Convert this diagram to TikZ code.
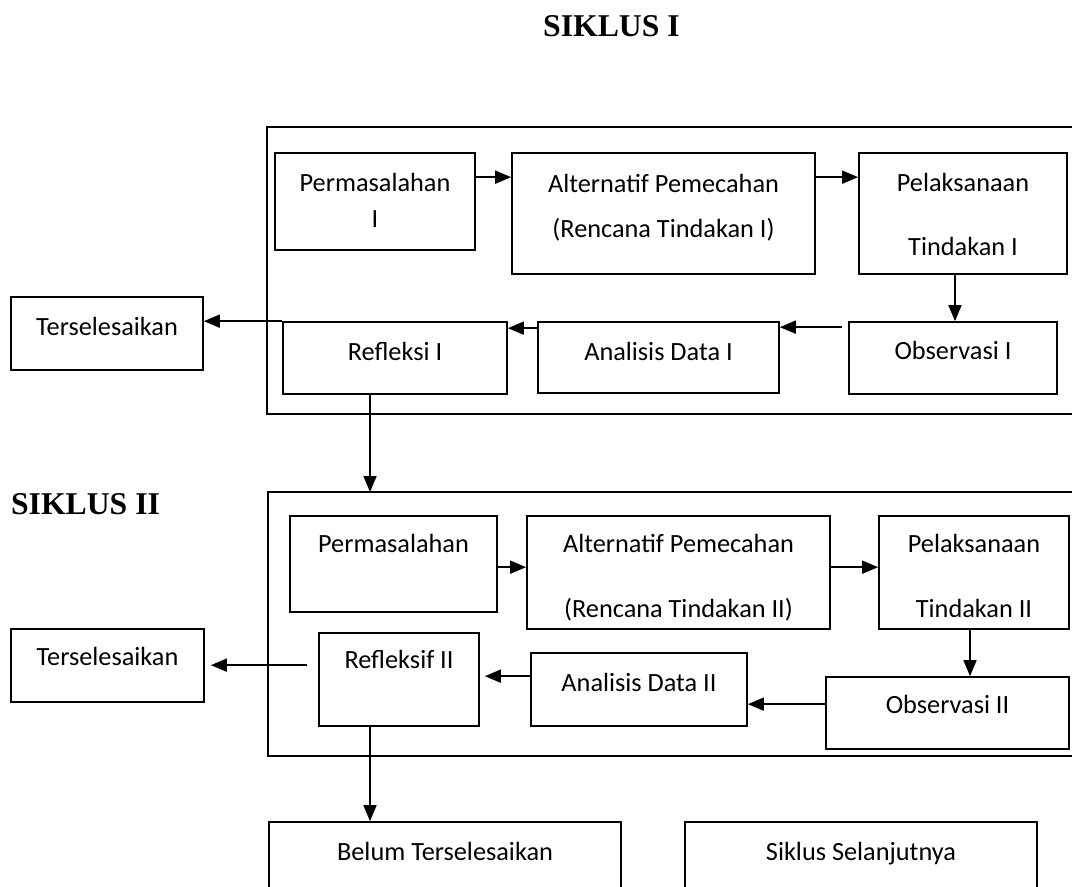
\documentclass[tikz,border=0pt]{standalone}
\usepackage{fontspec}
\setmainfont{Carlito}
\newfontfamily\titlefont{Liberation Serif}
\usetikzlibrary{arrows.meta,calc}
\begin{document}
\begin{tikzpicture}[x=1pt,y=-1pt,
  box/.style={draw,line width=1.7pt,rectangle,inner sep=0pt},
  txt/.style={anchor=base,inner sep=0pt,font=\fontsize{26.3}{32}\selectfont},
  ttl/.style={anchor=base,inner sep=0pt,font=\titlefont\bfseries\fontsize{31.7}{36}\selectfont},
  arr/.style={line width=1.7pt,-{Triangle[length=16pt,width=13pt]}},
  frame/.style={line width=1.7pt}]
\clip (0,0) rectangle (1072,887);
\fill[white] (0,0) rectangle (1072,887);
% titles
\node[ttl] (title1) at (611.5,36) {SIKLUS I};
\node[ttl] (title2) at (85.5,514) {SIKLUS II};
% frames
\coordinate (f1a) at (1072,127); \coordinate (f1b) at (267,127);
\coordinate (f1c) at (267,414); \coordinate (f1d) at (1072,414);
\draw[frame] (f1a) -- (f1b) -- (f1c) -- (f1d);
\coordinate (f2a) at (1072,492); \coordinate (f2nw) at (268,492);
\coordinate (f2c) at (268,756); \coordinate (f2d) at (1072,756);
\draw[frame] (f2a) -- (f2nw) -- (f2c) -- (f2d);
% cycle I boxes
\node[box,minimum width=200,minimum height=97] (perm1) at (375,201.5) {};
\node[box,minimum width=303,minimum height=121] (alt1) at (663.5,213.5) {};
\node[box,minimum width=208,minimum height=121] (pel1) at (963,213.5) {};
\node[box,minimum width=208,minimum height=72] (obs1) at (953,358) {};
\node[box,minimum width=241,minimum height=71] (ana1) at (658.5,357.5) {};
\node[box,minimum width=224,minimum height=72] (ref1) at (395,358) {};
\node[box,minimum width=192,minimum height=73] (ters1) at (107,333.5) {};
% cycle I texts
\node[txt] (perm1a) at (375,191) {Permasalahan};
\node[txt] (perm1b) at (375,227) {I};
\node[txt] (alt1a) at (663.5,192) {Alternatif Pemecahan};
\node[txt] (alt1b) at (663.5,237) {(Rencana Tindakan I)};
\node[txt] (pel1a) at (963,191) {Pelaksanaan};
\node[txt] (pel1b) at (963,255) {Tindakan I};
\node[txt] (obs1a) at (953,359) {Observasi I};
\node[txt] (ana1a) at (658.5,360) {Analisis Data I};
\node[txt] (ref1a) at (395,360) {Refleksi I};
\node[txt] (ters1a) at (107,335) {Terselesaikan};
% cycle II boxes
\node[box,minimum width=207,minimum height=96] (perm2) at (393.5,564) {};
\node[box,minimum width=303,minimum height=113] (alt2) at (678.5,572.5) {};
\node[box,minimum width=190,minimum height=113] (pel2) at (974,572.5) {};
\node[box,minimum width=243,minimum height=72] (obs2) at (947.5,713) {};
\node[box,minimum width=216,minimum height=73] (ana2) at (639,689.5) {};
\node[box,minimum width=160,minimum height=93] (ref2) at (399,679.5) {};
\node[box,minimum width=193,minimum height=73] (ters2) at (107.5,665.5) {};
\node[box,minimum width=352,minimum height=130] (belum) at (445,887) {};
\node[box,minimum width=352,minimum height=130] (siklus) at (861,887) {};
% cycle II texts
\node[txt] (perm2a) at (393.5,552) {Permasalahan};
\node[txt] (alt2a) at (678.5,552) {Alternatif Pemecahan};
\node[txt] (alt2b) at (678.5,617) {(Rencana Tindakan II)};
\node[txt] (pel2a) at (974,552) {Pelaksanaan};
\node[txt] (pel2b) at (974,617) {Tindakan II};
\node[txt] (obs2a) at (947.5,713) {Observasi II};
\node[txt] (ana2a) at (639,691) {Analisis Data II};
\node[txt] (ref2a) at (399,668) {Refleksif II};
\node[txt] (ters2a) at (107.5,665) {Terselesaikan};
\node[txt] (belum1) at (445,860) {Belum Terselesaikan};
\node[txt] (siklus1) at (861,860) {Siklus Selanjutnya};
% cycle I connectors
\draw[arr] ([yshift=-25pt]perm1.north east) -- ([yshift=-25pt]alt1.north west);
\draw[arr] ([yshift=-25pt]alt1.north east) -- ([yshift=-25pt]pel1.north west);
\draw[arr] ([xshift=-8pt]pel1.south) -- ([xshift=-8pt]pel1.south |- obs1.north);
\coordinate (o1) at ($(obs1.north west)+(-6,6)$);
\draw[arr] (o1) -- (ana1.east |- o1);
\coordinate (a1) at ($(ana1.north west)+(0,7)$);
\draw[arr] (a1) -- (ref1.east |- a1);
\draw[arr] (ref1.north west) -- (ters1.east |- ref1.north west);
\draw[arr] ([xshift=-25pt]ref1.south) -- ([xshift=-25pt]ref1.south |- f2nw);
% cycle II connectors
\draw[arr] ([yshift=-52pt]perm2.north east) -- ([yshift=-52pt]alt2.north west);
\draw[arr] ([yshift=-52pt]alt2.north east) -- ([yshift=-52pt]pel2.north west);
\draw[arr] ([xshift=-4pt]pel2.south) -- ([xshift=-4pt]pel2.south |- obs2.north);
\coordinate (o2) at ($(obs2.north west)+(0,28)$);
\draw[arr] (o2) -- (ana2.east |- o2);
\coordinate (a2) at ($(ana2.north west)+(0,24)$);
\draw[arr] (a2) -- ($(ref2.east |- a2)+(5,0)$);
\coordinate (r2) at ($(ref2.north west)+(-11,33)$);
\draw[arr] (r2) -- ($(ters2.east |- r2)+(6,0)$);
\draw[arr] ([xshift=-29pt]ref2.south) -- ([xshift=-29pt]ref2.south |- belum.north);
\end{tikzpicture}
\end{document}
